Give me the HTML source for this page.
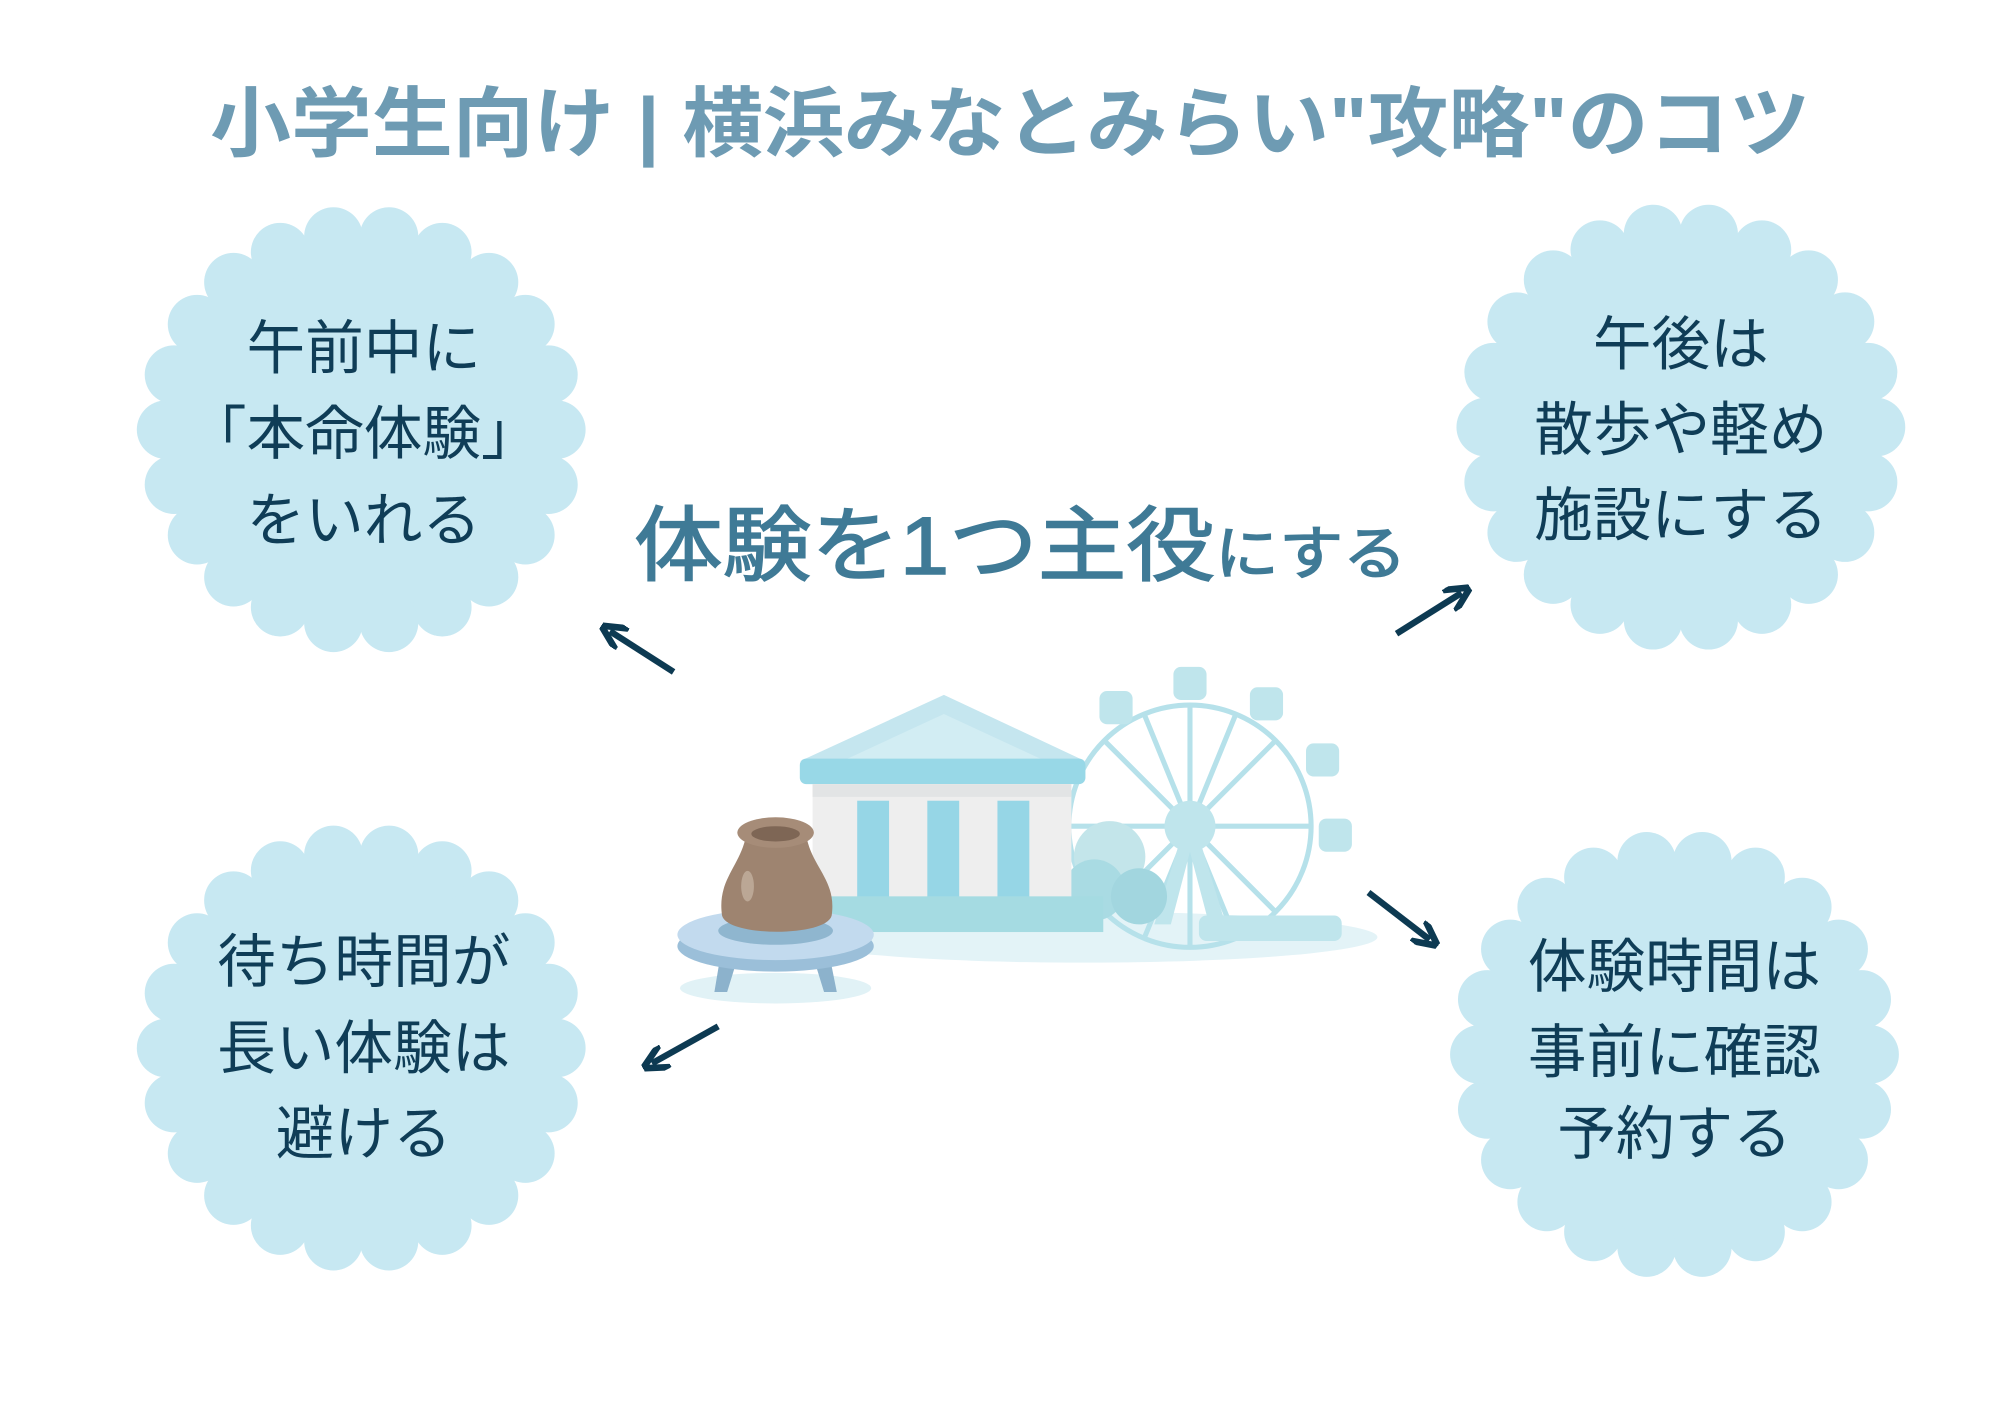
<!DOCTYPE html>
<html><head><meta charset="utf-8"><style>
html,body{margin:0;padding:0;background:#fff;}
svg{display:block;}
text{font-family:"Liberation Sans","Noto Sans CJK JP",sans-serif;}
</style></head><body>
<svg width="2000" height="1414" viewBox="0 0 1568 1109" xmlns="http://www.w3.org/2000/svg">
<defs>
<marker id="ah" viewBox="0 0 10 10" refX="6" refY="5" markerWidth="4" markerHeight="4" orient="auto"><path d="M0,0 L10,5 L0,10" fill="none" stroke="#0d3a52" stroke-width="2.6"/></marker>
</defs>
<rect width="1568" height="1109" fill="#fff"/>
<text x="792" y="118" font-size="60" font-weight="bold" fill="#6e9bb3" text-anchor="middle" textLength="1255" lengthAdjust="spacingAndGlyphs">小学生向け | 横浜みなとみらい"攻略"のコツ</text>

<g id="bubbles"></g>
<script>
(function(){
var ns="http://www.w3.org/2000/svg",g=document.getElementById('bubbles');
[[283,337],[1318,335],[283,822],[1313,827]].forEach(function(c){
 var b=document.createElementNS(ns,'circle');b.setAttribute('cx',c[0]);b.setAttribute('cy',c[1]);b.setAttribute('r',158);b.setAttribute('fill','#c7e8f2');g.appendChild(b);
 for(var i=0;i<22;i++){var a=i*Math.PI*2/22;var s=document.createElementNS(ns,'circle');
 s.setAttribute('cx',c[0]+153*Math.cos(a));s.setAttribute('cy',c[1]+153*Math.sin(a));s.setAttribute('r',23);s.setAttribute('fill','#c7e8f2');g.appendChild(s);}
});
})();
</script>

<g font-size="46" fill="#0f3d57" text-anchor="middle">
<text x="285" y="289">午前中に</text>
<text x="285" y="356">「本命体験」</text>
<text x="285" y="424">をいれる</text>
<text x="1318" y="286">午後は</text>
<text x="1318" y="353">散歩や軽め</text>
<text x="1318" y="420">施設にする</text>
<text x="285" y="770">待ち時間が</text>
<text x="285" y="838">長い体験は</text>
<text x="285" y="905">避ける</text>
<text x="1313" y="774">体験時間は</text>
<text x="1313" y="841">事前に確認</text>
<text x="1313" y="905">予約する</text>
</g>

<text x="497" y="450" fill="#3f7a96" stroke="#3f7a96" stroke-width="1.2" textLength="606" lengthAdjust="spacingAndGlyphs"><tspan font-size="64">体験を1つ主役</tspan><tspan font-size="46">にする</tspan></text>

<g stroke="#0d3a52" stroke-width="5" fill="none" marker-end="url(#ah)">
<line x1="528" y1="527" x2="478" y2="495"/>
<line x1="1095" y1="497" x2="1146" y2="465"/>
<line x1="563" y1="805" x2="511" y2="834"/>
<line x1="1073" y1="700" x2="1121" y2="737"/>
</g>

<ellipse cx="850" cy="735" rx="230" ry="20" fill="#e3f3f7"/>
<g stroke="#b6e1ea" stroke-width="4" fill="none">
<circle cx="933" cy="648" r="95"/>
<line x1="933" y1="553" x2="933" y2="743"/><line x1="838" y1="648" x2="1028" y2="648"/>
<line x1="866" y1="581" x2="1000" y2="715"/><line x1="1000" y1="581" x2="866" y2="715"/>
<line x1="897" y1="560" x2="969" y2="736"/><line x1="969" y1="560" x2="897" y2="736"/>
</g>
<g fill="#bfe5ec">
<circle cx="933" cy="648" r="20"/>
<path d="M925 660 L905 725 L918 725 L933 668 L948 725 L961 725 L941 660Z"/>
<rect x="920" y="523" width="26" height="26" rx="6"/>
<rect x="862" y="542" width="26" height="26" rx="6"/>
<rect x="980" y="539" width="26" height="26" rx="6"/>
<rect x="1024" y="583" width="26" height="26" rx="6"/>
<rect x="1034" y="642" width="26" height="26" rx="6"/>
<rect x="940" y="718" width="112" height="20" rx="6"/>
</g>
<circle cx="870" cy="672" r="28" fill="#c3e5ea"/>
<circle cx="858" cy="698" r="24" fill="#a9dbe3"/>
<circle cx="893" cy="703" r="22" fill="#a2d6df"/>
<polygon points="740,545 627,597 851,597" fill="#c5e6ef"/>
<polygon points="740,560 660,597 820,597" fill="#d2edf3"/>
<rect x="627" y="595" width="224" height="20" rx="5" fill="#98d8e7"/>
<rect x="637" y="615" width="203" height="90" fill="#eeeeee"/>
<rect x="637" y="615" width="203" height="10" fill="#e2e4e5"/>
<rect x="672" y="628" width="25" height="76" fill="#96d6e6"/>
<rect x="727" y="628" width="25" height="76" fill="#96d6e6"/>
<rect x="782" y="628" width="25" height="76" fill="#96d6e6"/>
<rect x="648" y="703" width="217" height="28" fill="#a5dbe2"/>
<ellipse cx="608" cy="775" rx="75" ry="12" fill="#e1f2f6"/>
<path d="M565 748 L560 778 L570 778 L578 752Z M650 748 L656 778 L646 778 L638 752Z" fill="#8cb2cc"/>
<ellipse cx="608" cy="742" rx="77" ry="20" fill="#9bbfd9"/>
<ellipse cx="608" cy="733" rx="77" ry="20" fill="#c2daee"/>
<ellipse cx="608" cy="730" rx="45" ry="11" fill="#8fb6cf"/>
<path d="M585 655 C 580 680, 562 690, 566 718 C 570 735, 648 735, 652 718 C 656 690, 636 680, 632 655 Z" fill="#9e8470"/>
<ellipse cx="608" cy="653" rx="30" ry="12" fill="#a68c78"/>
<ellipse cx="608" cy="654" rx="19" ry="6" fill="#7e6655"/>
<ellipse cx="586" cy="695" rx="5" ry="12" fill="#bba795"/>
</svg>
</body></html>
